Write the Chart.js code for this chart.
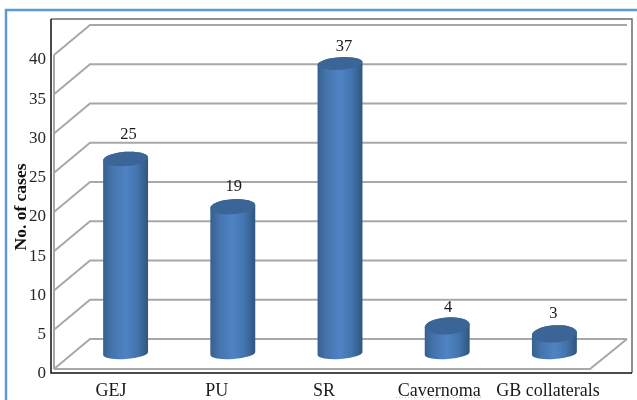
<!DOCTYPE html>
<html>
<head>
<meta charset="utf-8">
<title>Cases by site</title>
<script src="https://cdn.jsdelivr.net/npm/chart.js@4/dist/chart.umd.min.js"></script>
<style>
  html, body { margin: 0; padding: 0; background: #fff; }
  canvas { display: block; }
</style>
</head>
<body>
<canvas id="chart1" width="637" height="400"></canvas>
<script>
const categories = ['GEJ', 'PU', 'SR', 'Cavernoma', 'GB collaterals'];
const cases = [25, 19, 37, 4, 3];
const yTicks = [0, 5, 10, 15, 20, 25, 30, 35, 40];

// depth of the fake 3d box
const depthX = 36;
const depthY = 30;
const serif = '"Liberation Serif", "Times New Roman", serif';

// hand placed labels, offsets from where the scale puts them
const categoryNudge = [3.5, 2, 2, 10, 11.5];
const valueNudge = [[3, -24], [1, -20], [4, -17], [1, -18], [-1, -20]];

function topRadius(h) {
  return 8.8 - 2.5 * h / 290;
}

// bars are drawn as cylinders standing in the middle of the floor
Chart.BarElement.prototype.draw = function (ctx) {
  const h = this.base - this.y;
  const rx = this.width / 2;
  const ry = topRadius(h);
  const tilt = -0.07;
  const cx = this.x + depthX / 2;
  const bottom = this.base - depthY / 2 - 0.5;
  const top = this.y - depthY / 2 + (ry - 6.3) * 1.5;

  const body = ctx.createLinearGradient(cx - rx, 0, cx + rx, 0);
  body.addColorStop(0, '#36608f');
  body.addColorStop(0.2, '#4574ad');
  body.addColorStop(0.5, '#4f83c4');
  body.addColorStop(0.75, '#4375ae');
  body.addColorStop(1, '#30557f');

  ctx.save();
  ctx.beginPath();
  ctx.ellipse(cx, bottom, rx, 5.5, tilt, 0, Math.PI);
  ctx.ellipse(cx, top, rx, ry, tilt, Math.PI, Math.PI * 2);
  ctx.closePath();
  ctx.fillStyle = body;
  ctx.fill();

  ctx.beginPath();
  ctx.ellipse(cx, top, rx, ry, tilt, 0, Math.PI * 2);
  ctx.fillStyle = '#3a6596';
  ctx.fill();
  ctx.restore();
};

const boxPlugin = {
  id: 'box3d',
  beforeDraw(chart) {
    const c = chart.ctx;
    const a = chart.chartArea;
    c.save();
    c.fillStyle = '#fff';
    c.fillRect(0, 0, chart.width, chart.height);

    // blue frame round the figure
    c.strokeStyle = '#5b9bd5';
    c.lineWidth = 2.5;
    c.beginPath();
    c.moveTo(6, chart.height);
    c.lineTo(6, 10);
    c.lineTo(chart.width, 10);
    c.stroke();

    // plot border
    c.strokeStyle = '#6e6e6e';
    c.lineWidth = 1.5;
    c.beginPath();
    c.moveTo(a.left - 3, 19);
    c.lineTo(632, 19);
    c.lineTo(632, a.bottom + 4);
    c.stroke();
    c.strokeStyle = '#111';
    c.beginPath();
    c.moveTo(a.left - 3, 19);
    c.lineTo(a.left - 3, a.bottom + 4);
    c.lineTo(632, a.bottom + 4);
    c.stroke();
    c.restore();
  },
  beforeDatasetsDraw(chart) {
    const c = chart.ctx;
    const a = chart.chartArea;
    const y = chart.scales.y;
    c.save();
    c.strokeStyle = '#a8a8a8';
    c.lineWidth = 2;

    c.beginPath();
    c.moveTo(a.left, a.top);
    c.lineTo(a.left, a.bottom);
    c.stroke();

    y.ticks.forEach((t, i) => {
      const py = y.getPixelForTick(i);
      c.beginPath();
      c.moveTo(a.left, py);
      c.lineTo(a.left + depthX, py - depthY);
      c.lineTo(a.right + depthX + 1, py - depthY);
      c.stroke();
    });

    // floor edges
    c.beginPath();
    c.moveTo(a.left, a.bottom);
    c.lineTo(a.right, a.bottom);
    c.lineTo(a.right + depthX + 1, a.bottom - depthY);
    c.stroke();
    c.restore();
  },
  afterDatasetsDraw(chart) {
    const c = chart.ctx;
    const x = chart.scales.x;
    const meta = chart.getDatasetMeta(0);
    c.save();
    c.textAlign = 'center';
    c.textBaseline = 'middle';
    c.fillStyle = '#1a1a1a';

    c.font = '16.5px ' + serif;
    cases.forEach((v, i) => {
      const el = meta.data[i];
      const ry = topRadius(el.base - el.y);
      const top = el.y - depthY / 2 + (ry - 6.3) * 1.5;
      c.fillText(String(v), el.x + depthX / 2 + valueNudge[i][0], top + valueNudge[i][1]);
    });

    c.font = '18px ' + serif;
    categories.forEach((name, i) => {
      c.fillText(name, x.getPixelForTick(i) + categoryNudge[i], 391);
    });

    // spell check squiggle under Cavernoma
    c.strokeStyle = 'rgba(214, 110, 110, 0.55)';
    c.lineWidth = 1;
    c.setLineDash([1, 2]);
    c.beginPath();
    c.moveTo(396, 397.5);
    c.lineTo(481, 397.5);
    c.stroke();
    c.setLineDash([]);

    c.translate(21, 207);
    c.rotate(-Math.PI / 2);
    c.font = 'bold 17.5px ' + serif;
    c.fillStyle = '#111';
    c.fillText('No. of cases', 0, 0);
    c.restore();
  }
};

new Chart(document.getElementById('chart1'), {
  type: 'bar',
  data: {
    labels: categories,
    datasets: [{
      label: 'No. of cases',
      data: cases,
      barPercentage: 0.42,
      categoryPercentage: 1,
      clip: false
    }]
  },
  options: {
    responsive: false,
    animation: false,
    layout: { padding: { left: 0, right: 47, top: 55, bottom: 31 } },
    plugins: { legend: { display: false }, tooltip: { enabled: false } },
    scales: {
      x: {
        grid: { display: false },
        border: { display: false },
        ticks: { display: false },
        afterFit(scale) { scale.height = 0; }
      },
      y: {
        min: yTicks[0],
        max: yTicks[yTicks.length - 1],
        afterBuildTicks(scale) { scale.ticks = yTicks.map(v => ({ value: v })); },
        grid: { display: false },
        border: { display: false },
        ticks: {
          padding: 0,
          labelOffset: 5,
          color: '#262626',
          font: { family: serif, size: 17 }
        },
        afterFit(scale) { scale.width = 54; }
      }
    }
  },
  plugins: [boxPlugin]
});
</script>
</body>
</html>
